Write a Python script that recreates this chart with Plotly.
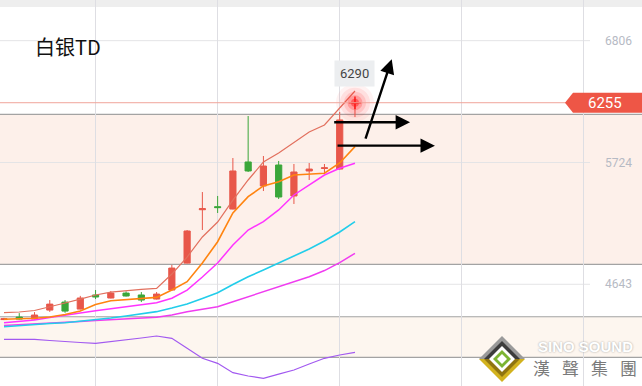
import plotly.graph_objects as go

# ---------------- data ----------------
idx = list(range(24))
opens  = [4330, 4352, 4334, 4414, 4485, 4423, 4548, 4521, 4565, 4548, 4512, 4592,
          4831, 5305, 5332, 5311, 5729, 5516, 5702, 5427, 5649, 5671, 5666, 6250]
highs  = [4345, 4387, 4396, 4503, 4503, 4540, 4592, 4583, 4580, 4574, 4574, 4815,
          5125, 5462, 5427, 5764, 6137, 5782, 5738, 5711, 5720, 5711, 6173, 6290]
lows   = [4325, 4330, 4330, 4398, 4390, 4420, 4512, 4518, 4535, 4485, 4508, 4590,
          4828, 5125, 5276, 5308, 5640, 5471, 5400, 5356, 5569, 5622, 5662, 6128]
closes = [4336, 4334, 4370, 4467, 4405, 4521, 4530, 4565, 4539, 4503, 4556, 4787,
          5116, 5314, 5324, 5649, 5649, 5693, 5418, 5640, 5666, 5677, 6102, 6255]

ma_a = [4391, 4397, 4410, 4441, 4477, 4512, 4548, 4574, 4588, 4597, 4607, 4734,
        4885, 5063, 5196, 5391, 5569, 5729, 5809, 5898, 5995, 6057, 6208, 6359]
ma_b = [4332, 4335, 4341, 4352, 4375, 4406, 4463, 4497, 4509, 4518, 4527, 4592,
        4666, 4832, 5021, 5276, 5421, 5516, 5554, 5613, 5622, 5629, 5720, 5865]
ma_c = [4302, 4312, 4326, 4348, 4370, 4388, 4408, 4426, 4444, 4462, 4479, 4519,
        4592, 4708, 4832, 4992, 5125, 5199, 5303, 5436, 5525, 5613, 5673, 5717]
ma_d = [4266, 4277, 4288, 4295, 4302, 4314, 4326, 4344, 4361, 4381, 4400, 4432,
        4468, 4517, 4568, 4641, 4710, 4770, 4829, 4894, 4956, 5027, 5107, 5199]
ma_e = [4277, 4283, 4290, 4297, 4304, 4313, 4321, 4328, 4335, 4342, 4350, 4370,
        4400, 4422, 4444, 4488, 4533, 4577, 4622, 4666, 4710, 4765, 4836, 4918]
ma_f = [4154, 4154, 4154, 4144, 4133, 4126, 4119, 4133, 4148, 4166, 4184, 4163,
        4075, 3986, 3941, 3858, 3829, 3808, 3846, 3882, 3935, 3986, 4015, 4039]

tick_values = [4643, 5724, 6806]
tick_labels = ["4643", "5724", "6806"]
grid_idx = [6, 14, 22, 30, 38]

zone_upper = [4820, 6152]
zone_lower = [3995, 4355]
last_price = 6255
high_price = 6290
title = "白银TD"

# arrows: (tail_x, tail_y, head_x, head_y) in data units
arrows = [
    (23.66, 5924, 25.41, 6641),
    (21.54, 6082, 26.61, 6082),
    (21.76, 5874, 28.24, 5874),
]

W, H = 642, 386
Y0, Y1 = 3740, 7167
X0, X1 = -0.262, 41.81

fig = go.Figure()

# MA lines
ma_styles = [
    (ma_f, "#a259f0", 1.2),
    (ma_e, "#f03cf0", 1.5),
    (ma_d, "#22cdea", 1.6),
    (ma_c, "#ff33ff", 1.5),
    (ma_b, "#ff8410", 1.6),
    (ma_a, "#e2705e", 1.2),
]
for vals, col, w in ma_styles:
    fig.add_trace(go.Scatter(x=idx, y=vals, mode="lines",
                             line=dict(color=col, width=w), showlegend=False,
                             hoverinfo="skip"))

fig.add_trace(go.Candlestick(
    x=idx, open=opens, high=highs, low=lows, close=closes,
    increasing=dict(line=dict(color="#e8574a", width=1), fillcolor="#e8574a"),
    decreasing=dict(line=dict(color="#3aa63a", width=1), fillcolor="#3aa63a"),
    showlegend=False, hoverinfo="skip"))

# glow on last price
for sz, op in [(38, 0.06), (30, 0.09), (22, 0.14), (15, 0.25), (8, 0.5)]:
    fig.add_trace(go.Scatter(x=[idx[-1]], y=[last_price], mode="markers",
                             marker=dict(size=sz, color="#ff2020", opacity=op),
                             showlegend=False, hoverinfo="skip"))
fig.add_trace(go.Scatter(x=[idx[-1]], y=[last_price], mode="markers",
                         marker=dict(size=9, symbol="cross-thin",
                                     line=dict(color="#ff1a1a", width=1.5)),
                         showlegend=False, hoverinfo="skip"))

shapes = []
# top strip
shapes.append(dict(type="rect", xref="paper", yref="paper", x0=0, x1=1,
                   y0=1 - 7 / H, y1=1, fillcolor="#eeeeee", line_width=0, layer="below"))
# zones
for (lo, hi), fill in [(zone_upper, "#fdf0ea"), (zone_lower, "#fdf6ef")]:
    shapes.append(dict(type="rect", xref="paper", yref="y", x0=0, x1=1, y0=lo, y1=hi,
                       fillcolor=fill, line_width=0, layer="below"))
    for v in (lo, hi):
        shapes.append(dict(type="line", xref="paper", yref="y", x0=0, x1=1, y0=v, y1=v,
                           line=dict(color="#a3a3a3", width=1.2), layer="below"))
# horizontal grid lines
for v in tick_values:
    shapes.append(dict(type="line", xref="paper", yref="y", x0=0, x1=590 / W, y0=v, y1=v,
                       line=dict(color="#e4e4e6", width=1), layer="below"))
# last price line
shapes.append(dict(type="line", xref="paper", yref="y", x0=0, x1=566 / W,
                   y0=last_price, y1=last_price, line=dict(color="#f0a49a", width=1)))
# price tag
ppx = 8.88  # price per pixel
ht = 10 * ppx
shapes.append(dict(type="path", xref="paper", yref="y",
                   path=f"M {573/W},{last_price+ht} L 1,{last_price+ht} L 1,{last_price-ht} "
                        f"L {573/W},{last_price-ht} L {565/W},{last_price} Z",
                   fillcolor="#ee5646", line_width=0))

# logo diamond
cx, cy = 502, 359
def diamond(h, top, bottom):
    out = []
    L, R, T, B = (cx - h) / W, (cx + h) / W, 1 - (cy - h) / H, 1 - (cy + h) / H
    C = 1 - cy / H
    out.append(dict(type="path", xref="paper", yref="paper",
                    path=f"M {L},{C} L {cx/W},{T} L {R},{C} Z", fillcolor=top, line_width=0))
    out.append(dict(type="path", xref="paper", yref="paper",
                    path=f"M {L},{C} L {cx/W},{B} L {R},{C} Z", fillcolor=bottom, line_width=0))
    return out
shapes += diamond(23, "#9a9a9a", "#d2b21e")
shapes += diamond(18, "#3c3c3c", "#8f7410")
shapes += diamond(13, "#ffffff", "#ffffff")
shapes += diamond(9, "#7cb432", "#7cb432")
shapes += diamond(5, "#ffffff", "#ffffff")

annotations = []
annotations.append(dict(text=title, xref="paper", yref="paper", x=33 / W, y=1 - 46.5 / H,
                        xanchor="left", yanchor="middle", showarrow=False,
                        font=dict(family="Noto Sans CJK SC", size=20, color="#111111")))
for v, t in zip(tick_values, tick_labels):
    annotations.append(dict(text=t, xref="paper", yref="y", x=618 / W, y=v,
                            xanchor="center", yanchor="middle", showarrow=False,
                            font=dict(family="Roboto", size=12, color="#b6bac4")))
annotations.append(dict(text=str(last_price), xref="paper", yref="y", x=605 / W, y=last_price,
                        xanchor="center", yanchor="middle", showarrow=False,
                        font=dict(family="Roboto", size=15, color="#ffffff")))
annotations.append(dict(text=str(high_price), xref="x", yref="y", x=idx[-1], y=high_price,
                        xanchor="center", yanchor="bottom", yshift=12, showarrow=False,
                        bgcolor="#eceef0", borderpad=5,
                        font=dict(family="Roboto", size=13, color="#444444")))
for tx, ty, hx, hy in arrows:
    annotations.append(dict(x=hx, y=hy, ax=tx, ay=ty, xref="x", yref="y",
                            axref="x", ayref="y", text="", showarrow=True,
                            arrowhead=2, arrowsize=1.2, arrowwidth=2.4, arrowcolor="#000000"))
annotations.append(dict(text="<b>SINO SOUND</b>", xref="paper", yref="paper", x=585 / W,
                        y=1 - 346.7 / H, xanchor="center", yanchor="middle", showarrow=False,
                        font=dict(family="Liberation Sans", size=15, color="#ffffff",
                                  shadow="0px 0px 2px #9a9a9a")))
for i, ch in enumerate("漢聲集團"):
    annotations.append(dict(text=ch, xref="paper", yref="paper", x=(541.5 + 29 * i) / W,
                            y=1 - 367 / H, xanchor="center", yanchor="middle", showarrow=False,
                            font=dict(family="Noto Sans CJK TC", size=17, color="#7a7a7a")))

fig.update_layout(
    width=W, height=H, margin=dict(l=0, r=0, t=0, b=0),
    paper_bgcolor="white", plot_bgcolor="white",
    showlegend=False, hovermode=False, boxgap=0.42,
    shapes=shapes, annotations=annotations,
    xaxis=dict(range=[X0, X1], tickvals=grid_idx, showticklabels=False, showgrid=True,
               gridcolor="#dedee3", gridwidth=1, zeroline=False, showline=False,
               rangeslider=dict(visible=False), fixedrange=True),
    yaxis=dict(range=[Y0, Y1], showgrid=False, showticklabels=False, zeroline=False,
               showline=False, fixedrange=True),
)

fig.write_html("out.html")
